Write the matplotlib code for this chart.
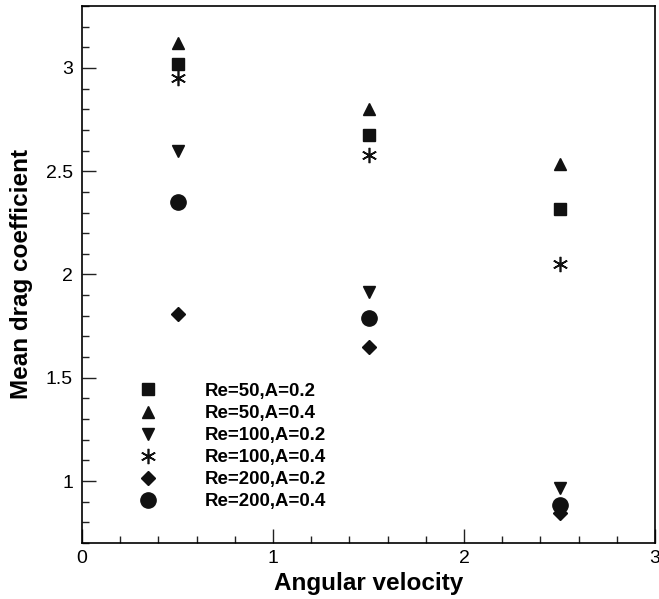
import matplotlib
matplotlib.use("Agg")
import matplotlib.pyplot as plt
from matplotlib.ticker import MultipleLocator, FormatStrFormatter

plt.rcParams["font.family"] = ["Liberation Sans", "DejaVu Sans"]

# ── Data ──────────────────────────────────────────────────────────────────────
omega = [0.5, 1.5, 2.5]

series_labels = [
    "Re=50,A=0.2",
    "Re=50,A=0.4",
    "Re=100,A=0.2",
    "Re=100,A=0.4",
    "Re=200,A=0.2",
    "Re=200,A=0.4",
]
re50_a02 = [3.02, 2.675, 2.318]
re50_a04 = [3.12, 2.80, 2.535]
re100_a02 = [2.60, 1.915, 0.966]
re100_a04 = [2.95, 2.58, 2.05]
re200_a02 = [1.81, 1.65, 0.846]
re200_a04 = [2.35, 1.79, 0.884]

series_values = [re50_a02, re50_a04, re100_a02, re100_a04, re200_a02, re200_a04]

# marker style per series
_STYLES = [
    dict(marker="s", ms=8),
    dict(marker="^", ms=9),
    dict(marker="v", ms=9),
    dict(marker=(6, 2, 0), ms=11, mew=1.2),
    dict(marker="D", ms=7.5),
    dict(marker="o", ms=11),
]

# ── Figure ────────────────────────────────────────────────────────────────────
fig = plt.figure(figsize=(6.59, 5.99), dpi=100)
ax = fig.add_axes([0.1245, 0.0935, 0.8695, 0.8965])

for label, vals, style in zip(series_labels, series_values, _STYLES):
    ax.plot(omega, vals, linestyle="none", color="#111111",
            mec="#111111", label=label, **style)

ax.set_xlim(0, 3)
ax.set_ylim(0.7, 3.3)
ax.xaxis.set_major_locator(MultipleLocator(1))
ax.xaxis.set_minor_locator(MultipleLocator(0.2))
ax.yaxis.set_major_locator(MultipleLocator(0.5))
ax.yaxis.set_minor_locator(MultipleLocator(0.1))
ax.xaxis.set_major_formatter(FormatStrFormatter("%g"))
ax.yaxis.set_major_formatter(FormatStrFormatter("%g"))

ax.tick_params(which="both", direction="in", top=False, right=False,
               width=1, labelsize=14, color="#222222")
ax.tick_params(which="major", length=10)
ax.tick_params(axis="y", which="major", pad=6.5)
ax.tick_params(axis="x", which="major", pad=5)
ax.tick_params(which="minor", length=5)
for spine in ax.spines.values():
    spine.set_linewidth(1.2)

ax.set_xlabel("Angular velocity", fontsize=17.5, fontweight="bold", labelpad=4)
ax.set_ylabel("Mean drag coefficient", fontsize=17.5, fontweight="bold", labelpad=9)

leg = ax.legend(loc="upper left", bbox_to_anchor=(0.099, 0.298), frameon=False,
                fontsize=13.4, handlelength=1.0, handletextpad=2.55,
                labelspacing=0.27, borderaxespad=0, borderpad=0)
for t in leg.get_texts():
    t.set_fontweight("bold")

fig.savefig("out.png", dpi=100)
